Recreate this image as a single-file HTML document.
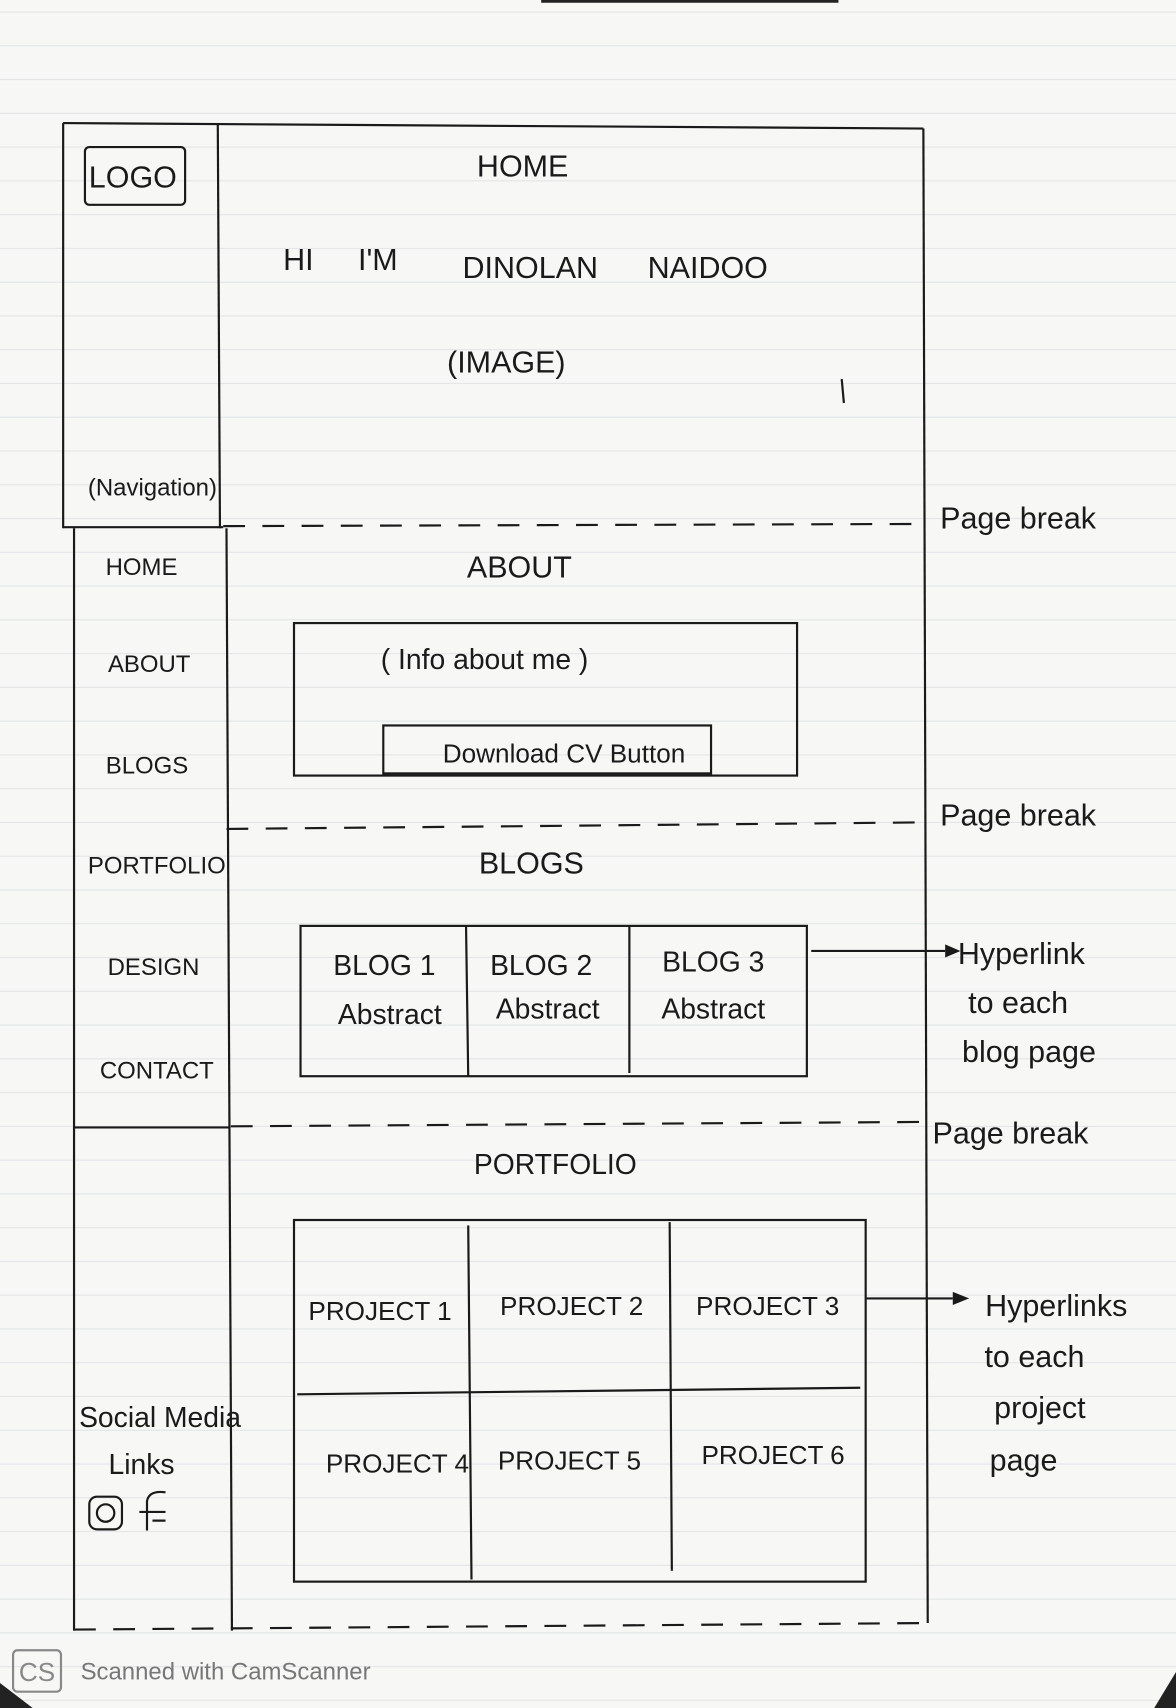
<!DOCTYPE html>
<html><head><meta charset="utf-8"><style>
html,body{margin:0;padding:0;background:#f7f7f5;}
svg{display:block}
text{font-family:"Liberation Sans",sans-serif;fill:#1a1a1a;}
</style></head><body>
<svg width="1176" height="1708" viewBox="0 0 1080 1568" preserveAspectRatio="none" xmlns="http://www.w3.org/2000/svg">
<defs>
<pattern id="ln" width="1080" height="31" patternUnits="userSpaceOnUse" y="12">
<line x1="0" y1="30" x2="1080" y2="30" stroke="#e3e5e9" stroke-width="1"/>
</pattern>
</defs>
<rect width="1080" height="1568" fill="#f7f7f5"/>
<rect width="1080" height="1568" fill="url(#ln)"/>
<line x1="497" y1="1" x2="770" y2="1" stroke="#222" stroke-width="3"/>
<polygon points="0,1545 30,1568 0,1568" fill="#222"/>
<polygon points="1080,1535 1060,1568 1080,1568" fill="#222"/>

<g stroke="#1a1a1a" stroke-width="2" fill="none">
<line x1="58" y1="113" x2="848" y2="118"/>
<line x1="58" y1="113" x2="58" y2="485"/>
<line x1="68" y1="485" x2="68" y2="1497"/>
<line x1="848" y1="118" x2="852" y2="1490"/>
<line x1="200" y1="113" x2="202" y2="485"/>
<line x1="208" y1="485" x2="213" y2="1497"/>
<line x1="58" y1="484" x2="205" y2="484"/>
<line x1="68" y1="1035" x2="210" y2="1035"/>
<line x1="205" y1="483" x2="845" y2="481" stroke-dasharray="20,16"/>
<line x1="208" y1="761" x2="845" y2="755" stroke-dasharray="20,16"/>
<line x1="212" y1="1034" x2="845" y2="1030" stroke-dasharray="20,16"/>
<line x1="68" y1="1496" x2="852" y2="1490" stroke-dasharray="20,16"/>
<rect x="78" y="135" width="92" height="53" rx="4"/>
<line x1="773" y1="348" x2="775" y2="370"/>
<rect x="270" y="572" width="462" height="140"/>
<rect x="352" y="666" width="301" height="44"/>
<rect x="276" y="850" width="465" height="138"/>
<line x1="428" y1="850" x2="430" y2="988"/>
<line x1="578" y1="850" x2="578" y2="985"/>
<line x1="745" y1="873" x2="868" y2="873"/>
<rect x="270" y="1120" width="525" height="332"/>
<line x1="430" y1="1125" x2="433" y2="1450"/>
<line x1="615" y1="1122" x2="617" y2="1442"/>
<line x1="273" y1="1280" x2="790" y2="1274"/>
<line x1="795" y1="1192" x2="875" y2="1192"/>
<rect x="82" y="1374" width="30" height="30" rx="7"/>
<circle cx="97" cy="1389" r="8"/>
<path d="M135 1405 L135 1378 Q137 1368 152 1370 M128 1388 L152 1388 M140 1396 L152 1396"/>
</g>
<polygon points="868,867 882,873 868,879" fill="#1a1a1a"/>
<polygon points="875,1186 890,1192 875,1198" fill="#1a1a1a"/>

<g font-size="28" text-anchor="middle">
<text x="122" y="172">LOGO</text>
<text x="480" y="162">HOME</text>
<text x="274" y="248">HI</text>
<text x="347" y="248">I'M</text>
<text x="487" y="255">DINOLAN</text>
<text x="650" y="255">NAIDOO</text>
<text x="465" y="342">(IMAGE)</text>
<text x="477" y="530">ABOUT</text>
<text x="488" y="802">BLOGS</text>
<text x="510" y="1078" font-size="26">PORTFOLIO</text>
</g>
<g font-size="22" text-anchor="middle">
<text x="140" y="455">(Navigation)</text>
<text x="130" y="528">HOME</text>
<text x="137" y="617">ABOUT</text>
<text x="135" y="710">BLOGS</text>
<text x="144" y="802">PORTFOLIO</text>
<text x="141" y="895">DESIGN</text>
<text x="144" y="990">CONTACT</text>
<text x="445" y="614" font-size="26">( Info  about  me )</text>
<text x="518" y="700" font-size="24">Download CV Button</text>
<text x="353" y="895" font-size="26">BLOG 1</text>
<text x="358" y="940" font-size="26">Abstract</text>
<text x="497" y="895" font-size="26">BLOG 2</text>
<text x="503" y="935" font-size="26">Abstract</text>
<text x="655" y="892" font-size="26">BLOG 3</text>
<text x="655" y="935" font-size="26">Abstract</text>
<text x="349" y="1212" font-size="24">PROJECT 1</text>
<text x="525" y="1207" font-size="24">PROJECT 2</text>
<text x="705" y="1207" font-size="24">PROJECT 3</text>
<text x="365" y="1352" font-size="24">PROJECT 4</text>
<text x="523" y="1349" font-size="24">PROJECT 5</text>
<text x="710" y="1344" font-size="24">PROJECT 6</text>
<text x="147" y="1310" font-size="26">Social Media</text>
<text x="130" y="1353" font-size="26">Links</text>
</g>
<g font-size="28" text-anchor="middle">
<text x="935" y="485">Page  break</text>
<text x="935" y="758">Page  break</text>
<text x="928" y="1050">Page  break</text>
<text x="938" y="885">Hyperlink</text>
<text x="935" y="930">to  each</text>
<text x="945" y="975">blog  page</text>
<text x="970" y="1208">Hyperlinks</text>
<text x="950" y="1255">to  each</text>
<text x="955" y="1302">project</text>
<text x="940" y="1350">page</text>
</g>
<rect x="12" y="1515" width="44" height="38" rx="4" fill="none" stroke="#888" stroke-width="2"/>
<text x="34" y="1543" font-size="24" text-anchor="middle" style="fill:#888">CS</text>
<text x="74" y="1542" font-size="22" style="fill:#777">Scanned with CamScanner</text>
</svg>
</body></html>
